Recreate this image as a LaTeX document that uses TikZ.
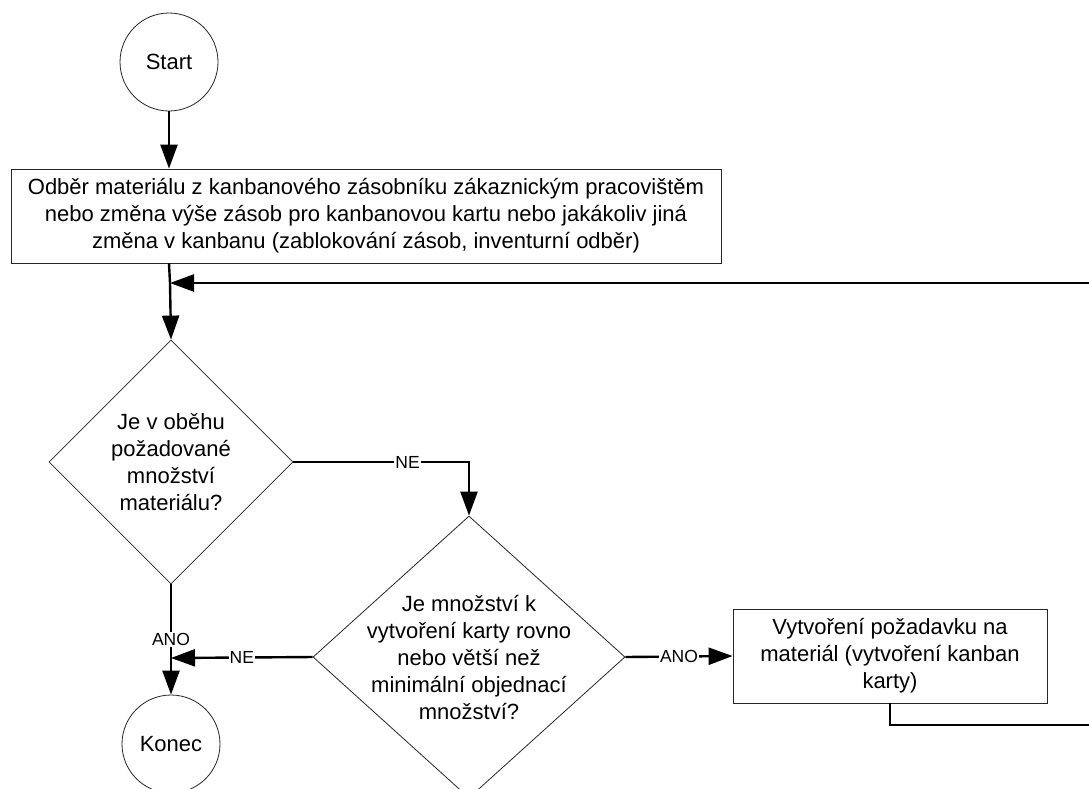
\documentclass[tikz,border=0pt]{standalone}
\usepackage{fontspec}
\setmainfont{Liberation Sans}
\usetikzlibrary{shapes.geometric,arrows.meta}
\tikzset{
  shapeline/.style={draw=black!85, line width=0.8pt, font=\fontsize{22}{27}\selectfont, align=center, inner sep=0pt},
  term/.style={shapeline, circle, minimum size=98pt},
  proc/.style={shapeline, rectangle},
  dec/.style={shapeline, diamond},
  conn/.style={line width=2.4pt, -{Triangle[length=24pt,width=17pt]}},
  plain/.style={line width=2.4pt},
  lbl/.style={fill=white, inner sep=1pt, font=\fontsize{17.5}{19}\selectfont}
}
\begin{document}
\begin{tikzpicture}[x=1pt,y=-1pt]
\useasboundingbox (0,0) rectangle (1089,788);
\clip (0,0) rectangle (1089,788);
\node[term] (start) at (169,62) {Start};
\node[proc, minimum width=710pt, minimum height=94pt] (box1) at (366,216)
  {Odběr materiálu z kanbanového zásobníku zákaznickým pracovištěm\\
   nebo změna výše zásob pro kanbanovou kartu nebo jakákoliv jiná\\
   změna v kanbanu (zablokování zásob, inventurní odběr)};
\node[dec, inner xsep=-20pt, inner ysep=-10pt, minimum width=244pt, minimum height=244pt] (d1) at (171,462)
  {Je v oběhu\\požadované\\množství\\materiálu?};
\node[dec, inner xsep=-30pt, inner ysep=-15pt, minimum width=312pt, minimum height=282pt] (d2) at (469,657)
  {Je množství k\\vytvoření karty rovno\\nebo větší než\\minimální objednací\\množství?};
\node[proc, minimum width=314pt, minimum height=94pt] (box2) at (890,656)
  {Vytvoření požadavku na\\materiál (vytvoření kanban\\karty)};
\node[term] (konec) at (171,744) {Konec};

\coordinate (fbR) at (1095,283);
\coordinate (fbL) at (170,283);
\coordinate (j) at (171,658);
\coordinate (outR) at (1095,725);

\draw[conn] (start.south) -- (start.south |- box1.north);
\draw[plain] (start.south |- box1.south) -- (fbL);
\draw[conn] (fbL) -- (d1.north);
\draw[conn] (fbR) -- (fbL);
\draw[conn] (d1.east) -- node[lbl, pos=0.65] {NE} (d1.east -| d2.north) -- (d2.north);
\draw[conn] (d1.south) -- node[lbl] {ANO} (konec.north);
\draw[conn] (d2.west) -- node[lbl] {NE} (j);
\draw[conn] (d2.east) -- node[lbl] {ANO} (box2.west);
\draw[plain] (box2.south) -- (box2.south |- outR) -- (outR);
\end{tikzpicture}
\end{document}
